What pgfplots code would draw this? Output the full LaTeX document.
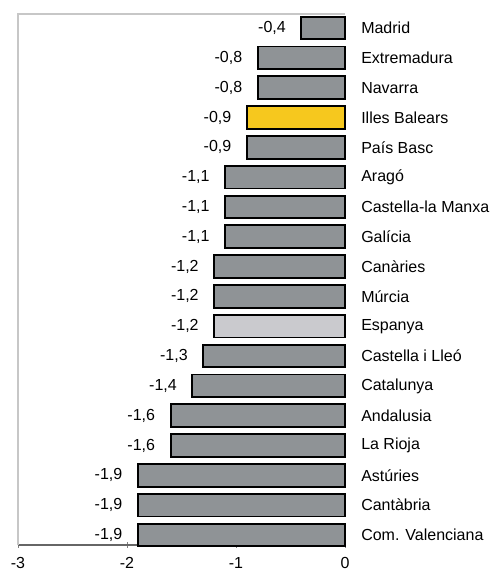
\documentclass[border=0pt]{standalone}
\usepackage{fontspec}
\setmainfont{Liberation Sans}
\usepackage{pgfplots}
\pgfplotsset{compat=1.18}
\definecolor{barg}{RGB}{143,147,150}
\definecolor{balears}{RGB}{246,200,30}
\definecolor{espanya}{RGB}{202,202,206}

\begin{document}
\fontsize{12}{14}\selectfont
\begin{tikzpicture}
\begin{axis}[
  name=ax,
  scale only axis,
  width=245.25pt, height=398.25pt,
  xmin=-3, xmax=0, ymin=0.664, ymax=18.47,
  xbar, bar width=17pt, bar shift=0pt,
  axis x line=bottom, axis y line=right,
  x axis line style={-, black!60, line width=0.8pt},
  y axis line style={draw=none},
  xtick={-3,-2,-1,0}, xticklabels={-3,-2,-1,0},
  xtick style={black!50, line width=0.6pt},
  tick align=center, major tick length=4pt,
  xticklabel style={font=\fontsize{12}{14}\selectfont, yshift=-3pt},
  ytick={1,...,18},
  yticklabels={Com. Valenciana, Cantàbria, Astúries, La Rioja, Andalusia,
    Catalunya, Castella i Lleó, Espanya, Múrcia, Canàries, Galícia,
    Castella-la Manxa, Aragó, País Basc, Illes Balears, Navarra,
    Extremadura, Madrid},
  ytick style={draw=none},
  yticklabel style={font=\fontsize{12}{14}\selectfont, anchor=west, inner sep=0pt, xshift=10pt},
  point meta=x,
  nodes near coords={\pgfmathprintnumber[use comma, fixed, fixed zerofill, precision=1, assume math mode=true]{\pgfplotspointmeta}},
  nodes near coords style={font=\fontsize{12}{14}\selectfont, anchor=east, inner sep=0pt, xshift=-11pt},
  clip=false,
]
\addplot[fill=barg, draw=black, line width=1.4pt] coordinates {
  (-1.9,1) (-1.9,2) (-1.9,3) (-1.6,4) (-1.6,5) (-1.4,6) (-1.3,7)
  (-1.2,9) (-1.2,10) (-1.1,11) (-1.1,12) (-1.1,13) (-0.9,14)
  (-0.8,16) (-0.8,17) (-0.4,18)};
\addplot[fill=espanya, draw=black, line width=1.4pt] coordinates {(-1.2,8)};
\addplot[fill=balears, draw=black, line width=1.4pt] coordinates {(-0.9,15)};
\end{axis}
\draw[black!22, line width=1.2pt] (ax.south west) -- (ax.north west) -- (ax.north east);
\pgfresetboundingbox
\path[use as bounding box] ([xshift=-13.5pt, yshift=-21pt]ax.south west) rectangle ++(370.5pt, 429.75pt);
\end{tikzpicture}
\end{document}
